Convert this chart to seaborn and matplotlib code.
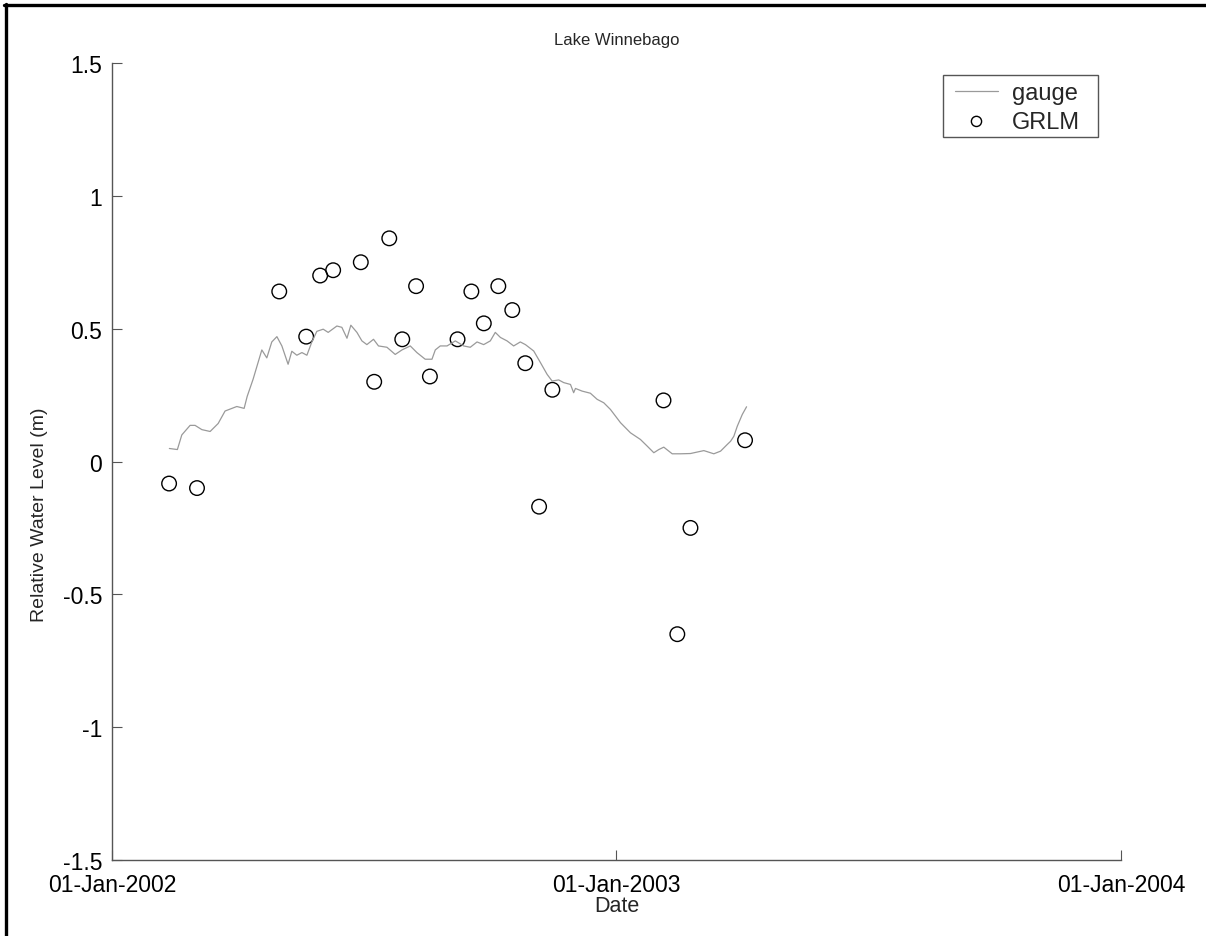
import matplotlib
matplotlib.use("Agg")
import matplotlib.pyplot as plt
import matplotlib.dates as mdates
from matplotlib.lines import Line2D
from matplotlib.patches import Rectangle
import matplotlib.ticker as mticker
import numpy as np
import pandas as pd
import seaborn as sns

# ---- data (days after 01-Jan-2002, relative water level in m) ----
gauge_days = [41.5, 47.3, 50.5, 56.5, 60.1, 65, 71, 76.8, 81.8, 90.3, 95.6, 97.8,
              102.1, 105.7, 108.4, 112, 115.6, 119.3, 122.9, 127.4, 130.1, 133.7,
              137.4, 141, 144.6, 148.2, 152.8, 156.4, 162.7, 166.3, 170, 172.8,
              177.2, 180.8, 184.4, 189.2, 192.8, 198.9, 204.9, 209.8, 215.8, 220.6,
              226.6, 231.5, 233.9, 237.5, 242.4, 248.4, 254.4, 259.2, 264.1, 268.9,
              273.7, 277.3, 281, 285.8, 290.6, 295.4, 299.1, 305.1, 310, 314.8,
              318.4, 323.2, 326.8, 331.7, 334, 335.3, 340.1, 346.1, 351, 355.8,
              360.6, 367.9, 375.1, 382.3, 387.2, 392, 395.6, 399.2, 405.3, 411.3,
              418.5, 428.2, 435.4, 440.3, 445.1, 447.5, 449.9, 452.4, 456, 459.1]
gauge_level = [0.049, 0.045, 0.10, 0.136, 0.136, 0.12, 0.113, 0.143, 0.19, 0.207, 0.20, 0.245,
               0.31, 0.373, 0.42, 0.39, 0.45, 0.47, 0.435, 0.366, 0.415, 0.40,
               0.41, 0.40, 0.45, 0.49, 0.498, 0.486, 0.51, 0.505, 0.464, 0.513,
               0.486, 0.454, 0.44, 0.46, 0.435, 0.43, 0.403, 0.42, 0.435, 0.41,
               0.385, 0.385, 0.42, 0.435, 0.435, 0.454, 0.435, 0.43, 0.45, 0.44,
               0.454, 0.486, 0.467, 0.454, 0.435, 0.45, 0.44, 0.416, 0.372, 0.328,
               0.303, 0.307, 0.297, 0.29, 0.259, 0.275, 0.265, 0.257, 0.234, 0.221,
               0.196, 0.146, 0.108, 0.083, 0.058, 0.033, 0.045, 0.054, 0.029, 0.029,
               0.03, 0.041, 0.029, 0.039, 0.064, 0.076, 0.095, 0.133, 0.177, 0.206]

grlm_days = [41.3, 61.5, 121, 140.5, 150.6, 160, 180, 189.7, 200.6, 210, 220, 230,
             250, 260, 269, 279.5, 289.6, 299, 309, 318.6, 399, 409, 418.5, 458]
grlm_level = [-0.083, -0.10, 0.64, 0.47, 0.70, 0.72, 0.75, 0.30, 0.84, 0.46, 0.66, 0.32,
              0.46, 0.64, 0.52, 0.66, 0.57, 0.37, -0.17, 0.27, 0.23, -0.65, -0.25, 0.08]

x_ticks = ["2002-01-01", "2003-01-01", "2004-01-01"]
y_ticks = [-1.5, -1, -0.5, 0, 0.5, 1, 1.5]

origin = pd.Timestamp("2002-01-01")
gauge = pd.DataFrame({"date": origin + pd.to_timedelta(gauge_days, unit="D"),
                      "level": gauge_level})
grlm = pd.DataFrame({"date": origin + pd.to_timedelta(grlm_days, unit="D"),
                     "level": grlm_level})

sns.set_theme(style="white")
plt.rcParams["font.family"] = ["Liberation Sans", "DejaVu Sans"]
plt.rcParams["axes.unicode_minus"] = False

W, H = 1206, 937
fig = plt.figure(figsize=(W / 100, H / 100), dpi=100)
ax = fig.add_axes([112 / W, 1 - 861 / H, (1121 - 112) / W, (861 - 64) / H])

sns.lineplot(data=gauge, x="date", y="level", ax=ax, color="#9a9a9a",
             linewidth=0.9, label="gauge")
sns.scatterplot(data=grlm, x="date", y="level", ax=ax, marker="o", s=110,
                facecolor="none", edgecolor="black", linewidth=1.0, label="GRLM")

ax.set_xlim(pd.Timestamp(x_ticks[0]), pd.Timestamp(x_ticks[-1]))
ax.set_ylim(-1.5, 1.5)
ax.set_xticks([pd.Timestamp(t) for t in x_ticks])
ax.xaxis.set_major_formatter(mdates.DateFormatter("%d-%b-%Y"))
ax.set_yticks(y_ticks)
ax.yaxis.set_major_formatter(mticker.FuncFormatter(lambda v, p: f"{v:g}"))

for s in ["top", "right"]:
    ax.spines[s].set_visible(False)
for s in ["left", "bottom"]:
    ax.spines[s].set_color("#555555")
    ax.spines[s].set_linewidth(1.0)
ax.tick_params(axis="both", direction="in", length=7, width=0.8, color="#555555",
               labelsize=16.5, labelcolor="black")
ax.tick_params(axis="y", left=True, pad=7)
ax.tick_params(axis="x", bottom=True, pad=9)

ax.set_xlabel("Date", fontsize=15.5)
ax.set_ylabel("Relative Water Level (m)", fontsize=14)
ax.xaxis.set_label_coords(0.5, -0.0565)
ax.yaxis.set_label_coords(-0.0714, 0.435)
ax.xaxis.label.set_va("center")
ax.yaxis.label.set_va("center")
ax.set_title("Lake Winnebago", fontsize=12, pad=14)

# legend: content placed inside a MATLAB-style box
leg = ax.legend(loc="upper left", bbox_to_anchor=(955 / W, 1 - 83 / H),
                bbox_transform=fig.transFigure, frameon=False,
                fontsize=17, handlelength=1.82, handletextpad=0.6,
                borderpad=0.0, labelspacing=0.28, borderaxespad=0, markerscale=0.7)
fig.add_artist(Rectangle((943 / W, 1 - 138 / H), (1098 - 943) / W, (138 - 76) / H,
                         transform=fig.transFigure, fill=False,
                         edgecolor="#555555", linewidth=1.0, zorder=5))

# figure frame (top and left edges visible)
fig.add_artist(Line2D([4 / W, 1.0], [1 - 6.3 / H, 1 - 6.3 / H],
                      transform=fig.transFigure, color="black", linewidth=2.4))
fig.add_artist(Line2D([5.5 / W, 5.5 / W], [0.0, 1 - 5 / H],
                      transform=fig.transFigure, color="black", linewidth=2.4))

fig.savefig("out.png", dpi=100, facecolor="white")
